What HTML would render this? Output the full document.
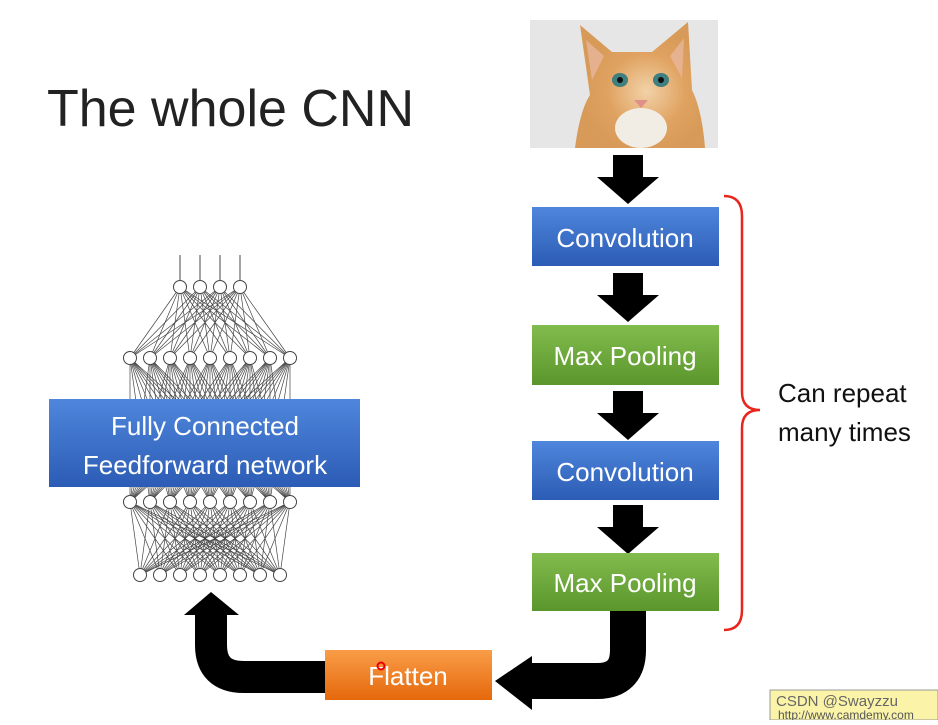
<!DOCTYPE html>
<html><head><meta charset="utf-8"><style>
body{margin:0;background:#fff;width:938px;height:720px;overflow:hidden;font-family:"Liberation Sans",sans-serif}
</style></head><body>
<svg id="s" width="938" height="720" xmlns="http://www.w3.org/2000/svg">
<defs>
<linearGradient id="gb" x1="0" y1="0" x2="0" y2="1"><stop offset="0" stop-color="#4f86dc"/><stop offset="1" stop-color="#2c5cb5"/></linearGradient>
<linearGradient id="gg" x1="0" y1="0" x2="0" y2="1"><stop offset="0" stop-color="#82bc4e"/><stop offset="1" stop-color="#5b962c"/></linearGradient>
<linearGradient id="go" x1="0" y1="0" x2="0" y2="1"><stop offset="0" stop-color="#f99d48"/><stop offset="1" stop-color="#e5680c"/></linearGradient>
<radialGradient id="cat" cx="0.55" cy="0.55" r="0.5"><stop offset="0" stop-color="#f2d2a8"/><stop offset="0.6" stop-color="#e0a260"/><stop offset="1" stop-color="#d79a58"/></radialGradient>
</defs>
<text x="47" y="126" font-size="52" fill="#222">The whole CNN</text>
<!-- cat -->
<rect x="530" y="20" width="188" height="128" fill="#e6e6e6"/>
<path d="M575,148 Q580,110 590,95 L580,25 L612,52 L652,52 L688,22 L692,90 Q702,110 705,148 Z" fill="url(#cat)"/>
<path d="M586,40 L604,56 L592,80 Z M684,38 L670,56 L682,78 Z" fill="#e9b9a4" opacity="0.7"/>
<ellipse cx="620" cy="80" rx="8" ry="7" fill="#3f7f80"/><ellipse cx="661" cy="80" rx="8" ry="7" fill="#3f7f80"/>
<circle cx="620" cy="80" r="3" fill="#111"/><circle cx="661" cy="80" r="3" fill="#111"/>
<path d="M634,100 L648,100 L641,108 Z" fill="#e0908a"/>
<ellipse cx="641" cy="128" rx="26" ry="20" fill="#f1ece4"/>
<g id="net" stroke="#444" stroke-width="0.7" fill="none"></g>
<!-- down arrows -->
<g fill="#000">
<path d="M613,155 h30 v22 h16 l-31,27 l-31,-27 h16 z"/>
<path d="M613,273 h30 v22 h16 l-31,27 l-31,-27 h16 z"/>
<path d="M613,391 h30 v22 h16 l-31,27 l-31,-27 h16 z"/>
<path d="M613,505 h30 v22 h16 l-31,27 l-31,-27 h16 z"/>
</g>
<!-- boxes -->
<rect x="532" y="207" width="187" height="59" fill="url(#gb)"/>
<text x="625" y="247" font-size="26" fill="#fff" text-anchor="middle">Convolution</text>
<rect x="532" y="325" width="187" height="60" fill="url(#gg)"/>
<text x="625" y="365" font-size="26" fill="#fff" text-anchor="middle">Max Pooling</text>
<rect x="532" y="441" width="187" height="59" fill="url(#gb)"/>
<text x="625" y="481" font-size="26" fill="#fff" text-anchor="middle">Convolution</text>
<rect x="532" y="553" width="187" height="58" fill="url(#gg)"/>
<text x="625" y="592" font-size="26" fill="#fff" text-anchor="middle">Max Pooling</text>
<!-- brace -->
<path d="M724,196 Q742,196 742,216 L742,392 Q742,410 760,410 Q742,410 742,428 L742,610 Q742,630 724,630" stroke="#e8261c" stroke-width="2.5" fill="none"/>
<text x="778" y="402" font-size="26" fill="#111">Can repeat</text>
<text x="778" y="441" font-size="26" fill="#111">many times</text>
<!-- pipes -->
<path d="M628,611 V650 Q628,681 597,681 H528" stroke="#000" stroke-width="36" fill="none"/>
<path d="M532,656 L495,681 L532,710 Z" fill="#000"/>
<path d="M330,677 H244 Q211,677 211,645 V612" stroke="#000" stroke-width="32" fill="none"/>
<path d="M184,615 L211,592 L239,615 Z" fill="#000"/>
<rect x="325" y="650" width="167" height="50" fill="url(#go)"/>
<text x="408" y="685" font-size="26" fill="#fff" text-anchor="middle">Flatten</text>
<circle cx="381" cy="666" r="3.5" fill="none" stroke="#e00" stroke-width="2"/>
<!-- FC box -->
<rect x="49" y="399" width="311" height="88" fill="url(#gb)"/>
<text x="205" y="435" font-size="26" fill="#fff" text-anchor="middle">Fully Connected</text>
<text x="205" y="474" font-size="26" fill="#fff" text-anchor="middle">Feedforward network</text>
<rect x="770" y="690" width="168" height="30" fill="#fbf4a8" stroke="#999"/>
<text x="776" y="706" font-size="15" fill="#666">CSDN @Swayzzu</text>
<text x="778" y="719" font-size="12" fill="#555">http://www.camdemy.com</text>
</svg>
<script>
var g=document.getElementById('net'),ns='http://www.w3.org/2000/svg';
function L(n,x0,y){var a=[];for(var i=0;i<n;i++)a.push([x0+i*20,y]);return a;}
var l1=L(4,180,287),l2=L(9,130,358),l3=L(9,130,502),l4=L(8,140,575);
function ln(a,b,c,w){var e=document.createElementNS(ns,'line');e.setAttribute('x1',a[0]);e.setAttribute('y1',a[1]);e.setAttribute('x2',b[0]);e.setAttribute('y2',b[1]);if(c)e.setAttribute('stroke',c);if(w)e.setAttribute('stroke-width',w);g.appendChild(e);}
[[l1,l2],[l2,l3],[l3,l4]].forEach(function(p){p[0].forEach(function(a){p[1].forEach(function(b){ln(a,b);});});});
l1.forEach(function(a){ln(a,[a[0],255],'#444',1);});
[l1,l2,l3,l4].forEach(function(l){l.forEach(function(a){var c=document.createElementNS(ns,'circle');c.setAttribute('cx',a[0]);c.setAttribute('cy',a[1]);c.setAttribute('r',6.5);c.setAttribute('fill','#fff');c.setAttribute('stroke','#444');c.setAttribute('stroke-width','1');g.appendChild(c);});});
</script>
</body></html>
